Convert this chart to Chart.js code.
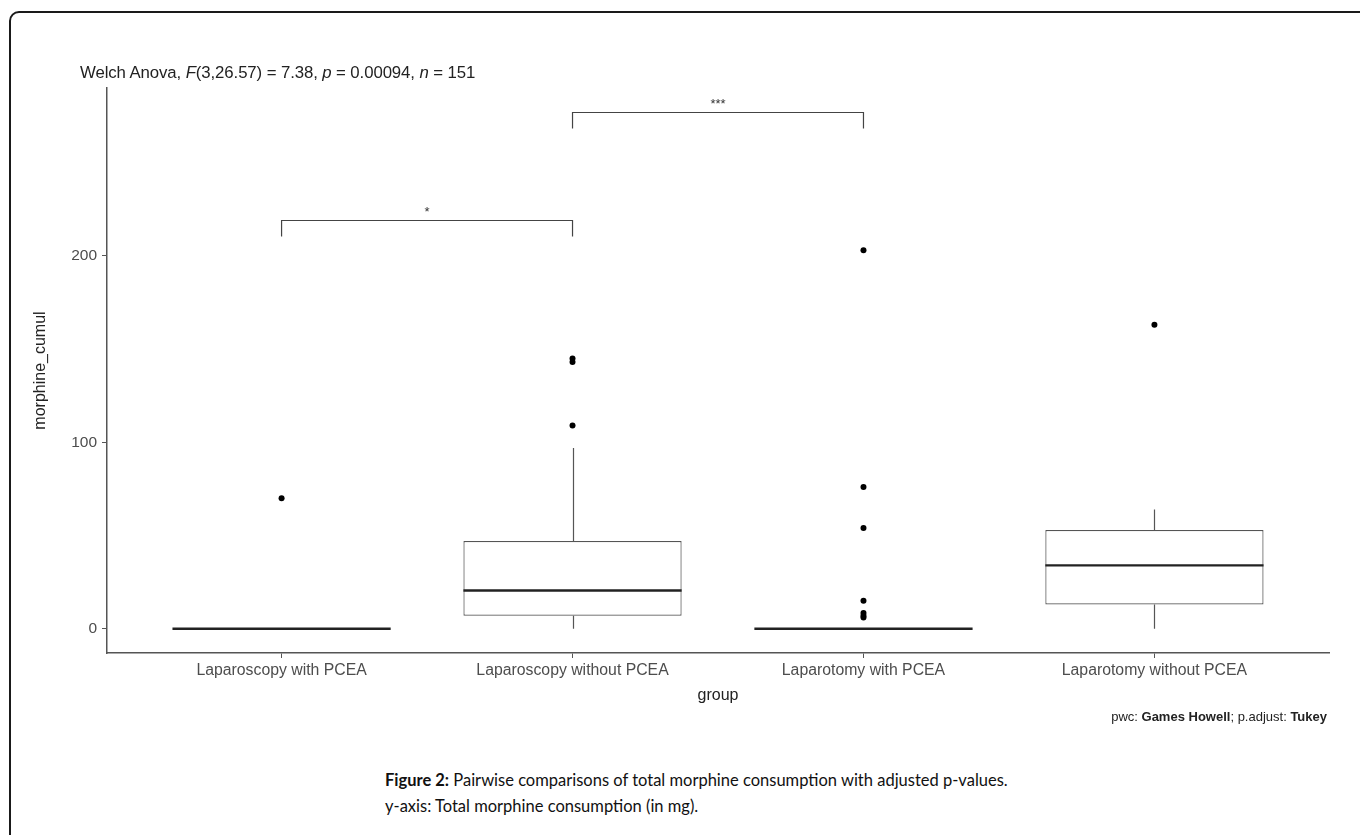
<!DOCTYPE html>
<html>
<head>
<meta charset="utf-8">
<title>Figure 2</title>
<script src="https://cdn.jsdelivr.net/npm/chart.js@4.4.0/dist/chart.umd.min.js"></script>
<style>
    body { margin: 0; background: #fff; width: 1360px; height: 835px; overflow: hidden; position: relative; font-family: "Liberation Sans", Arial, sans-serif; }
    #frame { position: absolute; left: 9px; top: 11px; width: 1420px; height: 900px; border: 2px solid #1a1a1a; border-radius: 10px; }
    #wrap { position: absolute; left: 0; top: 0; width: 1360px; height: 740px; }
    #stat { position: absolute; left: 80px; top: 63px; font-size: 16.8px; letter-spacing: -0.1px; color: #222; white-space: nowrap; }
    #pwc { position: absolute; right: 33px; top: 709px; font-size: 13px; color: #222; white-space: nowrap; }
    .cap { position: absolute; left: 385px; font-family: Lato, "Open Sans", sans-serif; font-size: 16.5px; color: #111; white-space: nowrap; }
</style>
</head>
<body>
<div id="frame"></div>
<div id="wrap"><canvas id="myChart"></canvas></div>
<div id="stat">Welch Anova, <i>F</i>(3,26.57) = 7.38, <i>p</i> = 0.00094, <i>n</i> = 151</div>
<div id="pwc">pwc: <b>Games Howell</b>; p.adjust: <b>Tukey</b></div>
<div class="cap" style="top:770px"><b>Figure 2:</b> Pairwise comparisons of total morphine consumption with adjusted p-values.</div>
<div class="cap" style="top:796px">y-axis: Total morphine consumption (in mg).</div>
<script>
// values (morphine_cumul, mg)
var groups = ['Laparoscopy with PCEA', 'Laparoscopy without PCEA', 'Laparotomy with PCEA', 'Laparotomy without PCEA'];
var q1 = [0, 7, 0, 13];
var medians = [0, 20.5, 0, 34];
var q3 = [0, 47, 0, 53];
var whiskerLow = [0, 0, 0, 0];
var whiskerHigh = [0, 97, 0, 64];
var outliers = [[70], [109, 143, 145], [6, 7, 8.5, 15, 54, 76, 203], [163]];
var yTicks = [0, 100, 200];
// significance brackets
var bracketFrom = [1, 2];
var bracketTo = [2, 3];
var bracketY = [219, 277];
var bracketLabels = ['*', '***'];

var boxes = groups.map(function (g, i) {
    return {x: i + 1, y: [q1[i], q3[i]]};
});
var points = [];
outliers.forEach(function (arr, i) {
    arr.forEach(function (v) {
        points.push({x: i + 1, y: v});
    });
});

var boxExtras = {
    id: 'boxExtras',
    beforeDatasetsDraw: function (chart) {
        var x = chart.scales.x, y = chart.scales.y, ctx = chart.ctx;
        ctx.save();
        ctx.strokeStyle = '#555';
        ctx.lineWidth = 1.2;
        groups.forEach(function (g, i) {
            var px = Math.round(x.getPixelForValue(i + 1)) + 0.5;
            ctx.beginPath();
            ctx.moveTo(px, y.getPixelForValue(whiskerHigh[i]));
            ctx.lineTo(px, y.getPixelForValue(q3[i]));
            ctx.moveTo(px, y.getPixelForValue(q1[i]));
            ctx.lineTo(px, y.getPixelForValue(whiskerLow[i]));
            ctx.stroke();
        });
        ctx.restore();
    },
    afterDatasetsDraw: function (chart) {
        var x = chart.scales.x, y = chart.scales.y, ctx = chart.ctx;
        var bars = chart.getDatasetMeta(0).data;
        ctx.save();
        ctx.strokeStyle = '#222';
        ctx.lineWidth = 2.4;
        groups.forEach(function (g, i) {
            var px = x.getPixelForValue(i + 1);
            var half = bars[i].width / 2;
            var py = y.getPixelForValue(medians[i]);
            ctx.beginPath();
            ctx.moveTo(px - half, py);
            ctx.lineTo(px + half, py);
            ctx.stroke();
        });
        // brackets
        ctx.strokeStyle = '#444';
        ctx.lineWidth = 1.2;
        ctx.fillStyle = '#333';
        ctx.font = '13px "Liberation Sans", Arial, sans-serif';
        ctx.textAlign = 'center';
        ctx.textBaseline = 'bottom';
        bracketY.forEach(function (v, i) {
            var x1 = x.getPixelForValue(bracketFrom[i]);
            var x2 = x.getPixelForValue(bracketTo[i]);
            var py = Math.round(y.getPixelForValue(v)) + 0.5;
            ctx.beginPath();
            ctx.moveTo(x1, py + 16);
            ctx.lineTo(x1, py);
            ctx.lineTo(x2, py);
            ctx.lineTo(x2, py + 16);
            ctx.stroke();
            ctx.fillText(bracketLabels[i], (x1 + x2) / 2, py - 2);
        });
        ctx.restore();
    }
};

var ctx = document.getElementById('myChart').getContext('2d');
var myChart = new Chart(ctx, {
    type: 'bar',
    data: {
        datasets: [{
                data: boxes,
                backgroundColor: '#fff',
                borderColor: '#555',
                borderWidth: 1.2,
                borderSkipped: false,
                categoryPercentage: 1,
                barPercentage: 0.75
            }, {
                type: 'scatter',
                data: points,
                pointRadius: 3,
                pointBackgroundColor: '#000',
                pointBorderWidth: 0
            }]
    },
    options: {
        responsive: true,
        maintainAspectRatio: false,
        animation: false,
        layout: {padding: {left: 27, right: 31, top: 88, bottom: 31}},
        scales: {
            x: {
                type: 'linear',
                min: 0.4,
                max: 4.6,
                offset: false,
                afterBuildTicks: function (s) {
                    s.ticks = groups.map(function (g, i) {
                        return {value: i + 1};
                    });
                },
                afterFit: function (s) {
                    s.height = 56;
                },
                ticks: {
                    callback: function (v) {
                        return groups[v - 1];
                    },
                    autoSkip: false,
                    maxRotation: 0,
                    padding: 3,
                    color: '#4d4d4d',
                    font: {family: '"Liberation Sans", Arial, sans-serif', size: 15.8}
                },
                grid: {drawOnChartArea: false, drawTicks: true, tickLength: 5, color: '#555', offset: false},
                border: {display: true, color: '#555', width: 1.5},
                title: {
                    display: true,
                    text: 'group',
                    color: '#222',
                    font: {family: '"Liberation Sans", Arial, sans-serif', size: 16}
                }
            },
            y: {
                min: -13,
                max: 290,
                afterBuildTicks: function (s) {
                    s.ticks = yTicks.map(function (v) {
                        return {value: v};
                    });
                },
                afterFit: function (s) {
                    s.width = 80;
                },
                ticks: {
                    padding: 5,
                    color: '#4d4d4d',
                    font: {family: '"Liberation Sans", Arial, sans-serif', size: 15.5}
                },
                grid: {drawOnChartArea: false, drawTicks: true, tickLength: 5, color: '#555'},
                border: {display: true, color: '#555', width: 1.5},
                title: {
                    display: true,
                    text: 'morphine_cumul',
                    color: '#222',
                    font: {family: '"Liberation Sans", Arial, sans-serif', size: 16}
                }
            }
        },
        plugins: {
            legend: {display: false},
            tooltip: {enabled: false}
        }
    },
    plugins: [boxExtras]
});
</script>
</body>
</html>
